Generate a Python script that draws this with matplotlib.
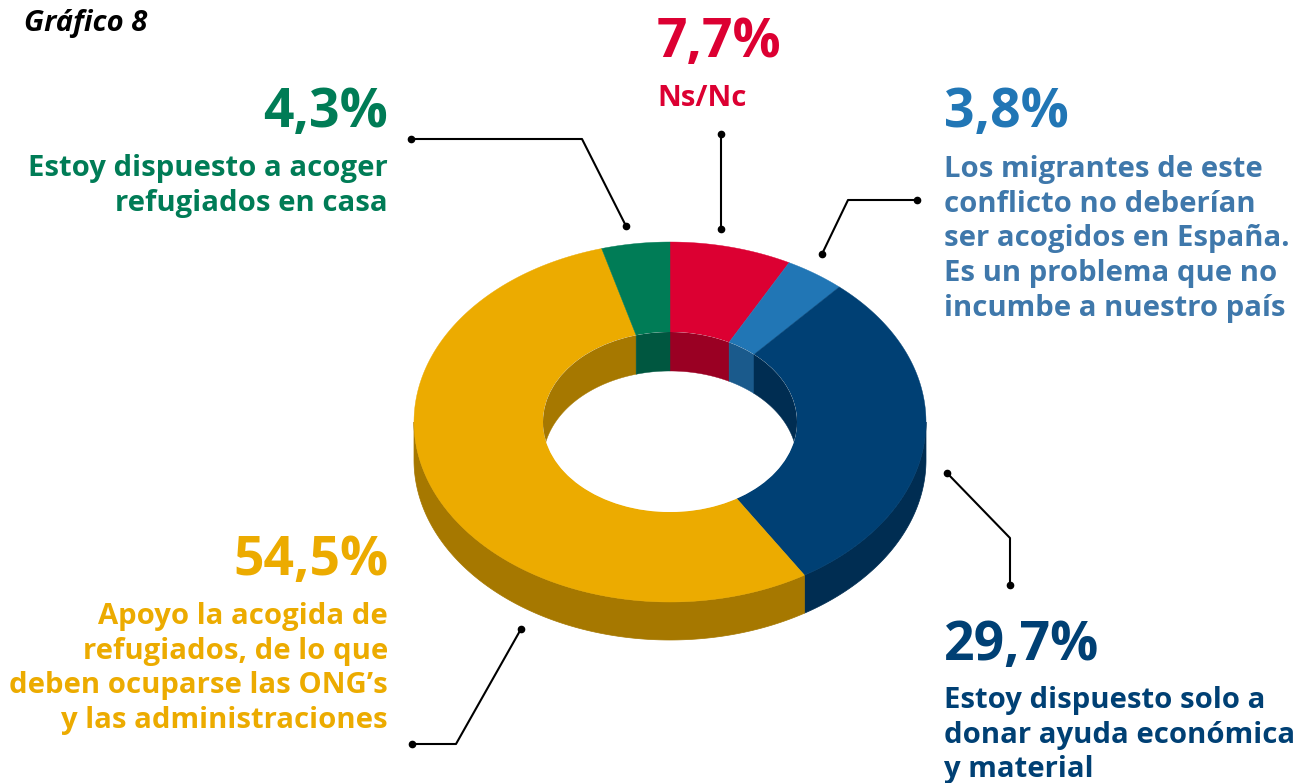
import numpy as np
import matplotlib
matplotlib.use('Agg')
import matplotlib.pyplot as plt
from matplotlib.patches import Polygon, Ellipse

plt.rcParams['font.family'] = ['Open Sans', 'DejaVu Sans']

# Data
labels = ['Ns/Nc',
          'Los migrantes de este\nconflicto no deberían\nser acogidos en España.\nEs un problema que no\nincumbe a nuestro país',
          'Estoy dispuesto solo a\ndonar ayuda económica\ny material',
          'Apoyo la acogida de\nrefugiados, de lo que\ndeben ocuparse las ONG’s\ny las administraciones',
          'Estoy dispuesto a acoger\nrefugiados en casa']
values = [7.7, 3.8, 29.7, 54.5, 4.3]
value_labels = ['7,7%', '3,8%', '29,7%', '54,5%', '4,3%']

top_colors = ['#DC0032', '#2176B5', '#004074', '#ECAB00', '#007C56']
inner_colors = ['#9A0023', '#1A5A8C', '#002D52', '#A67800', '#005740']
side_colors = ['#9A0023', '#17527F', '#002D52', '#A67800', '#005740']
text_colors = ['#DC0032', '#3F78AB', '#004074', '#ECAB00', '#007C56']

# Donut geometry in pixels
cx, cy = 670, 422
rx, ry = 256, 180
hole_rx, hole_ry = 127, 90
depth = 38

fig = plt.figure(figsize=(12.94, 7.83), dpi=100)
ax = fig.add_axes([0, 0, 1, 1])
ax.set_xlim(0, 1294)
ax.set_ylim(783, 0)
ax.axis('off')


def arc(a0, a1, w, h, dy=0):
    t = np.radians(np.linspace(a0, a1, 200))
    return np.column_stack([cx + w * np.sin(t), cy + dy - h * np.cos(t)])


edges = np.cumsum([0] + values) / sum(values) * 360

# outer wall
for i in range(len(values)):
    a0, a1 = max(edges[i], 90), min(edges[i + 1], 270)
    if a1 > a0:
        pts = np.vstack([arc(a0, a1, rx, ry), arc(a0, a1, rx, ry, depth)[::-1]])
        ax.add_patch(Polygon(pts, closed=True, fc=side_colors[i], ec=side_colors[i], lw=0.5, zorder=1))

# top faces
for i in range(len(values)):
    pts = np.vstack([arc(edges[i], edges[i + 1], rx, ry),
                     arc(edges[i], edges[i + 1], hole_rx, hole_ry)[::-1]])
    ax.add_patch(Polygon(pts, closed=True, fc=top_colors[i], ec=top_colors[i], lw=0.3, zorder=2))

# hole and the inner wall seen through it
hole = Ellipse((cx, cy), 2 * hole_rx, 2 * hole_ry, fc='white', ec='none', zorder=3)
ax.add_patch(hole)
for i in range(len(values)):
    for lo, hi in [(0, 90), (270, 360)]:
        a0, a1 = max(edges[i], lo), min(edges[i + 1], hi)
        if a1 > a0:
            pts = np.vstack([arc(a0, a1, hole_rx, hole_ry), arc(a0, a1, hole_rx, hole_ry, depth + 1)[::-1]])
            p = Polygon(pts, closed=True, fc=inner_colors[i], ec=inner_colors[i], lw=0.3, zorder=4)
            ax.add_patch(p)
            p.set_clip_path(hole)

# leader lines
leaders = [[(721, 134), (721, 229)],
           [(917, 200), (848, 200), (822, 254)],
           [(947, 473), (1010, 538), (1010, 585)],
           [(412, 744), (456, 744), (521, 629)],
           [(411, 139), (582, 139), (626, 226)]]
for line in leaders:
    xs, ys = zip(*line)
    ax.plot(xs, ys, color='black', lw=1.5, zorder=5)
    ax.plot([xs[0], xs[-1]], [ys[0], ys[-1]], 'o', color='black', ms=4.5, zorder=5)

# value and label text
value_pos = [(719, 57, 'center'), (944, 127, 'left'), (944, 660, 'left'),
             (388, 575, 'right'), (388, 127, 'right')]
label_pos = [(657, 84, 'left'), (944, 155, 'left'), (944, 686, 'left'),
             (388, 602, 'right'), (388, 154, 'right')]
for i in range(len(values)):
    ax.text(value_pos[i][0], value_pos[i][1], value_labels[i], color=top_colors[i],
            fontsize=38.5, fontweight='bold', ha=value_pos[i][2], va='baseline')
    ax.text(label_pos[i][0], label_pos[i][1], labels[i], color=text_colors[i],
            fontsize=21.1, fontweight='bold', ha=label_pos[i][2], va='top', linespacing=1.26)

ax.text(24, 31, 'Gráfico 8', color='black', fontsize=21, fontweight='bold',
        fontstyle='italic', ha='left', va='baseline')

plt.savefig('out.png', dpi=100)
